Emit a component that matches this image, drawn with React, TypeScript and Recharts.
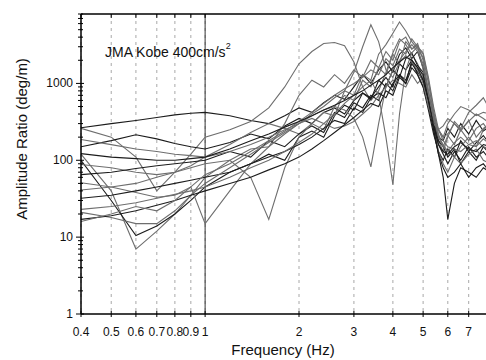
import { LineChart, Line, XAxis, YAxis, CartesianGrid, ReferenceLine } from 'recharts';

const DARK = '#1c1c1c';
const GRAY = '#6e6e6e';
const FONT = '"Liberation Sans", Arial, sans-serif';

// frequency grid (Hz)
const freqs = [
  0.4, 0.5, 0.6, 0.7, 0.8, 0.9, 1.0, 1.2, 1.4, 1.6, 1.8, 2.0, 2.2, 2.4, 2.6, 2.8, 3.0, 3.2, 3.4,
  3.6, 3.8, 4.0, 4.2, 4.4, 4.6, 4.8, 5.0, 5.2, 5.4, 5.6, 5.8, 6.0, 6.3, 6.6, 7.0, 7.4, 7.8, 8.2,
];

// amplitude ratio per record (deg/m)
const recA = [265, 300, 330, 360, 390, 410, 420, 380, 330, 300, 380, 480, 420, 560, 700, 620, 900, 1300, 1000, 1500, 1900, 1400, 2400, 2900, 2100, 2600, 1600, 700, 300, 200, 180, 260, 200, 300, 220, 330, 240, 280];
const recB = [260, 200, 110, 40, 70, 120, 200, 250, 320, 480, 900, 1800, 2600, 3300, 3400, 3100, 1900, 900, 600, 800, 1400, 2500, 3800, 3200, 2400, 1800, 1200, 600, 300, 180, 130, 200, 320, 260, 420, 520, 650, 450];
const recC = [150, 180, 215, 190, 165, 150, 140, 170, 220, 190, 280, 350, 300, 420, 480, 400, 600, 750, 650, 900, 1200, 900, 1800, 1500, 2000, 1300, 900, 450, 220, 130, 100, 140, 110, 180, 130, 170, 210, 160];
const recD = [120, 40, 7, 12, 20, 35, 60, 100, 140, 150, 300, 700, 1100, 900, 1300, 1000, 1500, 1200, 2000, 1600, 2600, 2000, 3500, 4000, 2800, 3300, 2000, 800, 300, 130, 90, 70, 110, 150, 200, 150, 250, 300];
const recE = [100, 30, 10.5, 14, 20, 30, 45, 70, 90, 120, 100, 200, 240, 200, 380, 520, 450, 750, 620, 1100, 900, 1500, 1200, 2100, 2500, 1700, 1400, 700, 350, 180, 150, 110, 140, 90, 130, 100, 150, 120];
const recF = [88, 80, 70, 65, 70, 85, 110, 160, 230, 300, 260, 220, 300, 420, 380, 800, 700, 1300, 1100, 2400, 3200, 4500, 6300, 4800, 3500, 2800, 2200, 1000, 400, 200, 150, 210, 160, 250, 180, 260, 300, 230];
const recG = [65, 70, 78, 85, 90, 95, 100, 130, 110, 180, 150, 220, 280, 230, 420, 360, 560, 480, 700, 600, 1000, 800, 1300, 1100, 1800, 1400, 1100, 600, 300, 160, 120, 90, 130, 100, 150, 110, 130, 100];
const recH = [51, 45, 38, 33, 35, 45, 15, 40, 90, 150, 220, 300, 350, 300, 260, 280, 320, 400, 500, 700, 900, 1100, 1000, 900, 1300, 1000, 1200, 700, 350, 200, 160, 130, 110, 90, 120, 140, 100, 90];
const recI = [41, 45, 50, 60, 70, 80, 90, 100, 60, 17, 80, 200, 300, 250, 500, 700, 600, 1100, 900, 1600, 1300, 2400, 1800, 3500, 2800, 3100, 1500, 700, 350, 250, 200, 220, 300, 240, 330, 200, 260, 300];
const recJ = [32, 35, 40, 45, 50, 55, 60, 70, 90, 110, 130, 160, 200, 260, 330, 300, 480, 420, 650, 750, 650, 1000, 1300, 1000, 2000, 1600, 1300, 600, 250, 120, 80, 60, 70, 90, 60, 80, 90, 70];
const recK = [23, 25, 28, 32, 36, 40, 45, 60, 80, 100, 130, 170, 220, 300, 400, 550, 700, 900, 1100, 700, 200, 48, 400, 1500, 2500, 3000, 2500, 1200, 500, 250, 180, 150, 140, 130, 160, 180, 150, 140];
const recL = [21, 18, 15, 15, 22, 35, 50, 80, 120, 170, 230, 300, 380, 450, 500, 450, 350, 200, 82, 300, 900, 1500, 2000, 2600, 3200, 2600, 1800, 800, 400, 250, 200, 300, 400, 500, 450, 380, 420, 400];
const recM = [17, 19, 22, 26, 30, 35, 40, 50, 60, 75, 90, 110, 140, 180, 230, 290, 360, 450, 550, 500, 800, 700, 1200, 1000, 1600, 1300, 900, 500, 250, 120, 60, 17, 50, 80, 70, 60, 80, 70];
const recN = [16, 20, 25, 22, 30, 45, 65, 90, 130, 180, 240, 320, 420, 550, 700, 850, 1000, 1200, 1500, 1300, 2100, 1700, 2800, 2400, 3800, 3000, 2400, 1100, 450, 220, 150, 130, 170, 200, 160, 150, 190, 160];
const recO = [186, 160, 140, 130, 120, 115, 110, 130, 160, 200, 250, 300, 400, 500, 650, 800, 1400, 3000, 5800, 3500, 1500, 1200, 1900, 2300, 1900, 1500, 1000, 500, 300, 250, 280, 350, 300, 250, 320, 400, 350, 300];
const recP = [122, 110, 105, 100, 100, 105, 110, 140, 180, 220, 270, 320, 380, 450, 520, 600, 700, 800, 950, 1100, 1300, 1600, 1900, 2200, 2000, 1600, 1100, 600, 280, 160, 130, 120, 150, 170, 140, 130, 160, 150];

const records = [
  { key: 'recA', values: recA, color: DARK },
  { key: 'recB', values: recB, color: GRAY },
  { key: 'recC', values: recC, color: DARK },
  { key: 'recD', values: recD, color: GRAY },
  { key: 'recE', values: recE, color: DARK },
  { key: 'recF', values: recF, color: GRAY },
  { key: 'recG', values: recG, color: DARK },
  { key: 'recH', values: recH, color: GRAY },
  { key: 'recI', values: recI, color: GRAY },
  { key: 'recJ', values: recJ, color: DARK },
  { key: 'recK', values: recK, color: GRAY },
  { key: 'recL', values: recL, color: GRAY },
  { key: 'recM', values: recM, color: DARK },
  { key: 'recN', values: recN, color: GRAY },
  { key: 'recO', values: recO, color: GRAY },
  { key: 'recP', values: recP, color: DARK },
];

const xTicks = [0.4, 0.5, 0.6, 0.7, 0.8, 0.9, 1, 2, 3, 4, 5, 6, 7];
const yMajor = [1, 10, 100, 1000];
const yTicks = [
  1, 2, 3, 4, 5, 6, 7, 8, 9,
  10, 20, 30, 40, 50, 60, 70, 80, 90,
  100, 200, 300, 400, 500, 600, 700, 800, 900,
  1000, 2000, 3000, 4000, 5000, 6000, 7000, 8000,
];

const data = freqs.map((freq, i) => {
  const row: Record<string, number> = { freq };
  records.forEach((r) => {
    row[r.key] = r.values[i];
  });
  return row;
});

function YTick({ x, y, payload }: any) {
  const v = payload.value;
  const major = yMajor.includes(v);
  return (
    <g>
      <line x1={x - (major ? 5 : 3)} x2={x + (major ? 3 : 2)} y1={y} y2={y} stroke="#000" strokeWidth={1} />
      {major && (
        <text x={x - 8} y={y + 4} textAnchor="end" fontSize={12} fontFamily={FONT} fill="#111">
          {v}
        </text>
      )}
    </g>
  );
}

function XTick({ x, y, payload }: any) {
  return (
    <g>
      <line x1={x} x2={x} y1={y - 3} y2={y + 3} stroke="#000" strokeWidth={1} />
      <text x={x} y={y + 22} textAnchor="middle" fontSize={12} fontFamily={FONT} fill="#111">
        {payload.value}
      </text>
    </g>
  );
}

function TopTick({ x, y }: any) {
  return <line x1={x} x2={x} y1={y} y2={y + 4} stroke="#000" strokeWidth={1} />;
}

export default function App() {
  return (
    <div
      style={{
        position: 'fixed',
        left: 0,
        top: 0,
        width: 486,
        height: 360,
        overflow: 'hidden',
        background: '#fff',
        fontFamily: FONT,
      }}
    >
      <LineChart width={524} height={360} data={data} margin={{ top: 0, right: 7, left: 0, bottom: 0 }}>
        <CartesianGrid horizontal={false} stroke="#a8a8a8" strokeDasharray="3 4" />
        <ReferenceLine x={1} stroke="#333" strokeWidth={1} />
        <XAxis
          dataKey="freq"
          type="number"
          scale="log"
          domain={[0.4, 10]}
          ticks={xTicks}
          interval={0}
          allowDataOverflow
          height={46}
          tickSize={0}
          tickMargin={0}
          tick={<XTick />}
          axisLine={{ stroke: '#000', strokeWidth: 1.5 }}
          tickLine={false}
        />
        <XAxis
          xAxisId="top"
          orientation="top"
          dataKey="freq"
          type="number"
          scale="log"
          domain={[0.4, 10]}
          ticks={xTicks}
          interval={0}
          allowDataOverflow
          height={14}
          tickSize={0}
          tickMargin={0}
          tick={<TopTick />}
          axisLine={{ stroke: '#000', strokeWidth: 1.5 }}
          tickLine={false}
        />
        <YAxis
          type="number"
          scale="log"
          domain={[1, 8000]}
          ticks={yTicks}
          interval={0}
          allowDataOverflow
          width={81}
          tickSize={0}
          tickMargin={0}
          tick={<YTick />}
          axisLine={{ stroke: '#000', strokeWidth: 1.5 }}
          tickLine={false}
        />
        {records.map((r) => (
          <Line
            key={r.key}
            dataKey={r.key}
            type="linear"
            stroke={r.color}
            strokeWidth={1.1}
            dot={false}
            isAnimationActive={false}
          />
        ))}
      </LineChart>
      <div
        style={{
          position: 'absolute',
          left: 105,
          top: 44,
          fontSize: 14,
          color: '#111',
          whiteSpace: 'nowrap',
        }}
      >
        JMA Kobe 400cm/s<sup style={{ fontSize: 9, verticalAlign: 'top', position: 'relative', top: -3 }}>2</sup>
      </div>
      <div
        style={{
          position: 'absolute',
          left: 21,
          top: 139,
          transform: 'translate(-50%, -50%) rotate(-90deg)',
          fontSize: 15,
          color: '#111',
          whiteSpace: 'nowrap',
        }}
      >
        Amplitude Ratio (deg/m)
      </div>
      <div
        style={{
          position: 'absolute',
          left: 283,
          top: 341,
          transform: 'translateX(-50%)',
          fontSize: 15,
          color: '#111',
          whiteSpace: 'nowrap',
        }}
      >
        Frequency (Hz)
      </div>
    </div>
  );
}
